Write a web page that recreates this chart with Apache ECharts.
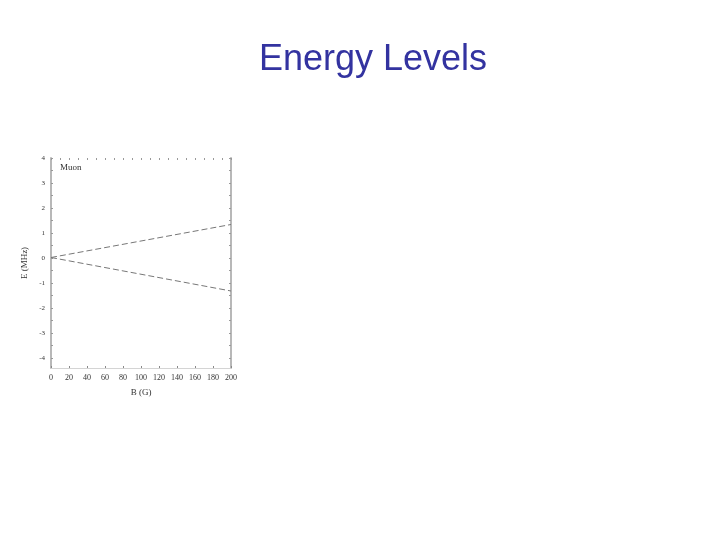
<!DOCTYPE html>
<html><head><meta charset="utf-8">
<script src="https://cdn.jsdelivr.net/npm/echarts@6/dist/echarts.min.js"></script>
<style>html,body{margin:0;padding:0;background:#fff}#c{width:720px;height:540px}</style>
</head><body><div id="c"></div>
<script>
const fieldB = [0, 200];
const upperLevel = [0.02, 1.34];
const lowerLevel = [0.02, -1.32];
const xTicks = [0, 20, 40, 60, 80, 100, 120, 140, 160, 180, 200];
const yTicks = [-4, -3, -2, -1, 0, 1, 2, 3, 4];
const xMinor = [10, 30, 50, 70, 90, 110, 130, 150, 170, 190];
const yMinor = [-3.5, -2.5, -1.5, -0.5, 0.5, 1.5, 2.5, 3.5];

const chart = echarts.init(document.getElementById('c'));
const serifFont = '"Liberation Serif", "DejaVu Serif", serif';
chart.setOption({
  animation: false,
  title: {
    text: 'Energy Levels', left: 368, top: 37, textAlign: 'center',
    textStyle: { fontFamily: '"Liberation Sans", Arial, sans-serif', fontSize: 36, fontWeight: 'normal', color: '#3333a0' }
  },
  grid: { left: 51, right: 489, top: 158, bottom: 172 },
  xAxis: [{
    type: 'value', min: 0, max: 200, position: 'bottom',
    name: 'B (G)', nameLocation: 'middle', nameGap: 20,
    nameTextStyle: { fontFamily: serifFont, fontSize: 9, color: '#333' },
    axisLine: { show: true, onZero: false, lineStyle: { color: '#d4d4d4', width: 1 } },
    axisTick: { show: true, inside: true, length: 2, customValues: xTicks, lineStyle: { color: '#888' } },
    axisLabel: { customValues: xTicks, fontFamily: serifFont, fontSize: 8, color: '#333', margin: 6 },
    splitLine: { show: false }
  }, {
    type: 'value', min: 0, max: 200, position: 'top',
    axisLine: { show: false, onZero: false },
    axisTick: { show: true, inside: true, length: 2, customValues: xTicks.concat(xMinor), lineStyle: { color: '#999' } },
    axisLabel: { show: false },
    splitLine: { show: false }
  }],
  yAxis: [{
    type: 'value', min: -4.4, max: 4, position: 'left',
    name: 'E (MHz)', nameLocation: 'middle', nameGap: 22, nameRotate: 90,
    nameTextStyle: { fontFamily: serifFont, fontSize: 9, color: '#333' },
    axisLine: { show: true, onZero: false, lineStyle: { color: '#b8b8b8', width: 2 } },
    axisTick: { show: true, inside: true, length: 2, customValues: yTicks.concat(yMinor), lineStyle: { color: '#999' } },
    axisLabel: { customValues: yTicks, fontFamily: serifFont, fontSize: 7, color: '#333', margin: 6 },
    splitLine: { show: false }
  }, {
    type: 'value', min: -4.4, max: 4, position: 'right',
    axisLine: { show: true, onZero: false, lineStyle: { color: '#b8b8b8', width: 2 } },
    axisTick: { show: true, inside: true, length: 2, customValues: yTicks.concat(yMinor), lineStyle: { color: '#999' } },
    axisLabel: { show: false },
    splitLine: { show: false }
  }],
  graphic: [{
    type: 'text', left: 60, top: 163,
    style: { text: 'Muon', font: '9px "Liberation Serif", serif', fill: '#333' }
  }],
  series: [{
    type: 'line', xAxisIndex: 0, yAxisIndex: 0, symbol: 'none',
    data: fieldB.map((b, i) => [b, upperLevel[i]]),
    lineStyle: { color: '#777', width: 1, type: [6, 3] }
  }, {
    type: 'line', xAxisIndex: 0, yAxisIndex: 0, symbol: 'none',
    data: fieldB.map((b, i) => [b, lowerLevel[i]]),
    lineStyle: { color: '#777', width: 1, type: [6, 3] }
  }]
});
</script></body></html>
